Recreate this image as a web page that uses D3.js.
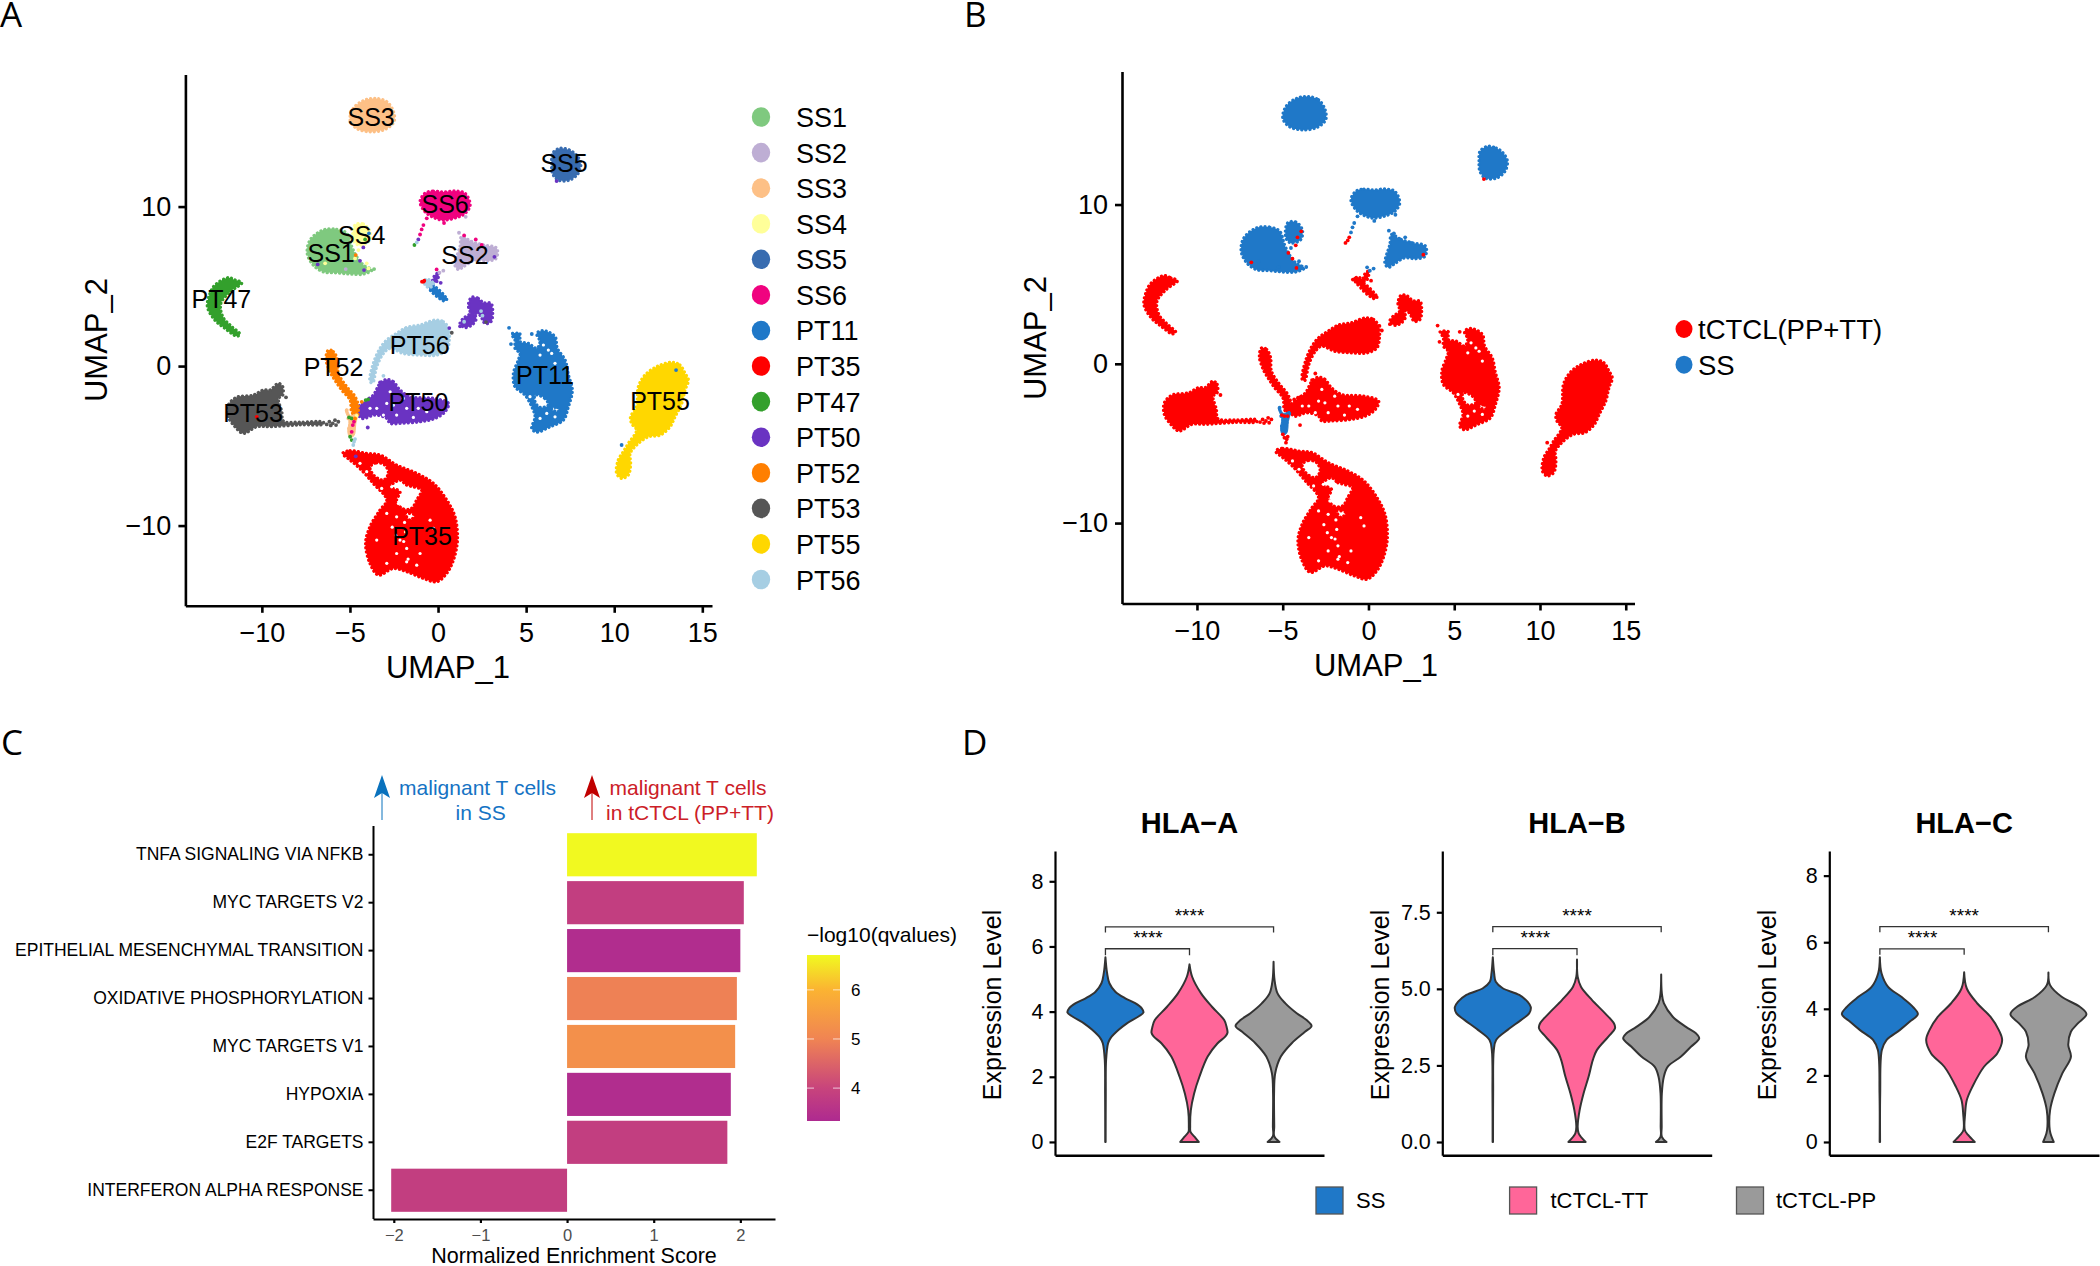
<!DOCTYPE html>
<html><head><meta charset="utf-8">
<script src="https://cdn.jsdelivr.net/npm/d3@7/dist/d3.min.js"></script>
<style>html,body{margin:0;background:#fff}svg{display:block}text{font-family:"Liberation Sans",sans-serif;fill:#000}</style>
</head><body><svg id="c" width="2100" height="1266"></svg>
<script>
// ---------- UMAP cluster outlines (UMAP_1, UMAP_2) ----------
const SS1=[[-6.51,8.53],[-5.75,8.57],[-5.18,8.32],[-4.9,7.48],[-4.62,6.85],[-4.24,6.33],[-3.76,6.02],[-4.24,5.77],[-4.99,5.77],[-5.75,5.85],[-6.51,5.91],[-7.08,6.33],[-7.42,7.06],[-7.26,7.9]];
const SS2=[[1.34,8.11],[1.91,7.8],[2.57,7.59],[3.33,7.38],[3.29,6.75],[2.76,6.6],[2.1,6.65],[1.44,6.23],[1.15,6.06],[0.96,6.33],[1.06,6.85],[1.25,7.48]];
const SS3=[[-3.58,16.78],[-2.91,16.57],[-2.53,15.95],[-2.5,15.32],[-3.01,14.84],[-3.86,14.69],[-4.62,14.9],[-4.99,15.42],[-4.81,16.15],[-4.24,16.64]];
const SS4=[[-4.71,8.84],[-4.24,8.9],[-3.86,8.42],[-3.95,7.8],[-4.52,7.59],[-4.81,7.9]];
const SS5=[[6.92,13.65],[7.45,13.54],[7.85,13.23],[8.1,12.71],[7.95,12.08],[7.45,11.66],[6.83,11.66],[6.5,12.08],[6.45,12.71],[6.5,13.33]];
const SS6=[[-0.74,10.83],[-0.26,10.97],[0.3,10.91],[0.96,10.97],[1.53,10.83],[1.82,10.09],[1.53,9.57],[1.06,9.32],[0.3,9.15],[-0.26,9.32],[-0.74,9.68],[-1.02,10.3]];
const PT11=[[4.18,2.01],[4.65,2.01],[4.65,1.53],[5.13,1.42],[5.6,1.11],[5.79,1.53],[5.6,2.05],[5.98,2.22],[6.64,1.84],[6.77,1.11],[7.21,0.38],[7.4,-0.56],[7.62,-1.5],[7.4,-2.55],[7.11,-3.39],[6.36,-3.8],[5.6,-4.14],[5.32,-3.91],[5.51,-3.18],[5.32,-2.55],[4.94,-1.82],[4.37,-1.3],[4.28,-0.46],[4.56,0.38],[4.65,0.79],[4.37,1.11],[4.37,1.63]];
const PT11hole1=[[5.51,-1.82],[6.07,-2.03],[6.26,-2.45],[5.79,-2.59],[5.51,-2.25]];
const PT11hole2=[[6.45,-2.65],[6.77,-2.59],[6.83,-2.86],[6.45,-2.72]];
const PT11stick=[[-0.36,5.08],[0.49,4.18],[0.36,4.08],[-0.49,4.87]];
const PT35=[[-5.41,-5.48],[-4.99,-5.31],[-4.05,-5.48],[-3.29,-5.58],[-2.35,-6.21],[-1.21,-6.73],[-0.26,-7.36],[0.49,-8.4],[0.96,-9.45],[1.1,-10.91],[0.87,-12.16],[0.49,-12.99],[-0.08,-13.52],[-0.83,-13.31],[-1.78,-12.89],[-2.54,-12.69],[-3.39,-13.1],[-3.86,-12.37],[-4.11,-11.12],[-3.86,-10.07],[-3.29,-9.03],[-2.91,-8.4],[-3.67,-7.36],[-4.43,-6.42],[-4.99,-5.89]];
const PT35hole1=[[-3.86,-6.31],[-3.48,-6.06],[-3.01,-6.21],[-2.82,-6.73],[-3.1,-7.15],[-3.67,-6.83]];
const PT35hole2=[[-2.16,-7.15],[-1.78,-7.46],[-1.4,-7.57],[-0.93,-7.77],[-1.21,-8.4],[-1.49,-8.92],[-2.06,-8.92],[-2.35,-8.4],[-2.16,-7.88],[-2.72,-7.57]];
const PT35hole3=[[-1.87,-9.24],[-1.31,-9.34],[-1.59,-9.66]];
const PT47=[[-11.9,5.54],[-11.52,5.39],[-11.14,5.22],[-11.8,4.66],[-12.33,3.93],[-12.22,3.09],[-11.77,2.53],[-11.24,1.99],[-11.43,1.88],[-12.09,2.36],[-12.66,2.88],[-13.09,3.72],[-12.94,4.56],[-12.66,5.08]];
const PT50=[[-2.91,-0.84],[-2.54,-0.98],[-2.16,-1.5],[-1.59,-1.92],[-0.26,-2.03],[0.59,-2.34],[0.4,-2.86],[-0.17,-3.28],[-1.02,-3.49],[-2.16,-3.59],[-2.72,-3.59],[-2.91,-3.28],[-3.58,-3.07],[-4.33,-3.28],[-4.62,-2.76],[-4.43,-2.45],[-4.05,-2.13],[-3.67,-1.82],[-3.29,-1.09]];
const PT50b=[[1.91,4.31],[2.29,4.24],[2.57,3.97],[3,3.93],[3.1,3.41],[3,2.78],[2.67,2.67],[2.38,3.2],[2.1,3.3],[2.16,2.93],[1.91,2.57],[1.53,2.42],[1.25,2.67],[1.44,2.99],[1.82,3.3],[1.72,3.82]];
const PT50c=[[-0.17,5.71],[0.02,5.81],[-0.08,5.29],[-0.32,5.18]];
const PT52=[[-6.22,1],[-5.94,0.9],[-5.71,0.38],[-5.66,-0.46],[-5.18,-1.3],[-4.71,-1.92],[-4.52,-2.55],[-4.62,-3.18],[-4.9,-2.86],[-4.99,-2.13],[-5.47,-1.5],[-5.85,-0.88],[-6.13,-0.36],[-6.36,0.48]];
const PT53=[[-9.06,-1.09],[-8.82,-1.3],[-8.82,-1.82],[-9.06,-2.03],[-8.87,-2.86],[-8.78,-3.45],[-7.83,-3.52],[-6.51,-3.52],[-6.51,-3.64],[-7.83,-3.68],[-9.53,-3.8],[-10.29,-3.8],[-11.05,-4.22],[-11.52,-3.8],[-11.9,-3.18],[-11.9,-2.45],[-11.43,-1.96],[-10.48,-1.82],[-9.91,-1.5],[-9.53,-1.5]];
const PT55=[[13.26,0.23],[13.73,0.06],[14.02,-0.46],[14.21,-0.88],[14.02,-1.5],[13.83,-2.34],[13.45,-3.18],[13.17,-3.8],[12.6,-4.33],[11.94,-4.43],[11.27,-4.95],[10.9,-5.48],[10.93,-6.1],[10.8,-6.83],[10.42,-7.04],[10.14,-6.73],[10.23,-5.89],[10.52,-5.37],[10.8,-4.85],[11.27,-4.01],[10.99,-3.6],[10.93,-3.18],[11.27,-2.55],[11.37,-1.3],[11.75,-0.56],[12.41,-0.04]];
const PT56=[[-0.17,2.88],[0.3,2.78],[0.59,2.36],[0.64,1.63],[0.49,1],[-0.08,0.69],[-1.02,0.69],[-1.97,0.79],[-2.72,1.11],[-3.1,0.79],[-3.48,-0.04],[-3.71,-1.04],[-3.86,-0.98],[-3.67,0.17],[-3.29,1.11],[-2.91,1.63],[-2.35,2.05],[-1.78,2.42],[-1.02,2.57]];
const PT56c=[[-0.68,5.45],[-0.26,5.18],[-0.45,4.93],[-0.74,5.08]];
const bridgeSS=[[-5.2,-2.69],[-4.97,-3.11],[-4.58,-3],[-4.67,-3.63],[-4.77,-4.36],[-5,-4.47],[-5.12,-4.15],[-5.06,-3.42],[-5.26,-2.8]];
// ---------- sparse spots inside the clusters, where the background shows ----------
const gaps=[[-2.25,-8.61],[-2.63,-7.57],[-3.2,-7.67],[-2.35,-9.45],[-2.91,-9.24],[-0.45,-9.66],[-0.26,-10.18],[-2.16,-10.91],[-1.78,-11.43],[-1.02,-11.75],[-2.35,-11.75],[-1.78,-12.27],[-2.91,-12.37],[-1.21,-12.48],[-3.48,-10.91],[-4.43,-6.1],[-4.05,-6.62],[-1.9,-9.8],[-1.85,-10.4],[-1.95,-11],[-2.6,-10.1],[-2.4,-10.6],[-1.7,-12.1],
 [-3.48,-2.65],[-2.54,-2.45],[-1.78,-2.65],[-3.1,-3.07],[-1.4,-3.22],[-0.64,-2.86],[-1.97,-2.03],[-2.72,-1.61],[-3.86,-2.65],[-2.91,-2.34],[-1.12,-2.65],[-2.35,-3.07],
 [5.98,1.32],[6.26,1],[6.45,0.79],[6.64,0.17],[5.79,0.69],[5.22,-1.92],[6.64,-3.18],[6.17,-2.97],[5.79,-3.28]];
// ---------- stray cells ----------
const straySS1=[[-5.24,6.08],[-3.63,6.08]];
const straySS2=[[1.19,8.36],[1.57,9.36],[0.3,5.98],[0.08,5.85],[-5.24,6.08]];
const straySS3=[[-5.18,-2.76],[-5.09,-3.28],[-5.05,-3.91],[-4.95,-4.2]];
const straySS4=[[-6.41,6.44],[-4.52,7.27],[-4.05,6.44],[-3.95,6.12],[-4.71,6.75],[-4.62,-3.13]];
const straySS6=[[-0.64,9.26],[-0.83,8.84],[-0.93,8.57],[-1.02,8.25],[0.34,8.97],[1.48,8.19],[2.14,7.94],[2.48,7.59],[-0.08,6.06],[-4.84,-3.7],[-4.77,-3.49],[-4.9,-4.12]];
const strayPT11=[[-3.92,8.32],[4.03,2.4],[5.32,2.01],[4.14,1.38],[10.42,-4.95],[13.51,-0.25]];
const strayPT35=[[-0.83,5.29],[-0.91,5.29],[-0.78,5.35],[-10.29,-3.18]];
const strayPT47=[[-4.14,7.94],[-1.34,7.59],[-5.05,-3.22],[-4.9,-3.28],[-4.99,-4.43],[-4.9,-4.64],[-4.11,-2.13],[-3.97,-2.09]];
const strayPT50=[[-6.83,6.37],[-4.43,6.6],[-4.2,6.02],[-4.24,7.44],[-1.12,7.94],[0.15,5.22],[6.73,11.6],[3.2,6.85],[1.25,2.49],[0.64,2.38],[-3.29,-1.02],[-3.99,-3.85],[-4.67,-5.66]];
const strayPT52=[[-4.67,6.96],[-4.33,-2.24],[-4.71,-3.28]];
const strayPT53=[[-8.63,-1.96],[-6.17,-3.49],[-6.09,-3.72],[-5.98,-3.59],[-5.85,-3.39],[-5.66,-3.49],[-5.79,-3.7],[-6.32,-3.66],[2.72,2.76],[0.78,2.09]];
const strayPT56=[[-1.21,7.75],[2.44,3.45],[2.52,3.16],[1.48,2.78],[-3.1,-0.61],[-1.84,2.34],[-4.71,-4.58],[-4.81,-4.95],[-4.77,-4.74]];

const clusterNames=["SS1","SS2","SS3","SS4","SS5","SS6","PT11","PT35","PT47","PT50","PT52","PT53","PT55","PT56"];
const clusterColors=["#7fc97f","#beaed4","#fdc086","#ffff99","#386cb0","#f0027f","#1f78c8","#ff0000","#33a02c","#6a33c2","#ff7f00","#565656","#ffd700","#a6cee3"];
const groupNames=["tCTCL(PP+TT)","SS"];
const groupColors=["#ff0000","#1f78c8"];
const clusterShapes={SS1:[[SS1]],SS2:[[SS2]],SS3:[[SS3]],SS4:[[SS4]],SS5:[[SS5]],SS6:[[SS6]],
 PT11:[[PT11,PT11hole1,PT11hole2],[PT11stick]],PT35:[[PT35,PT35hole1,PT35hole2,PT35hole3]],PT47:[[PT47]],
 PT50:[[PT50],[PT50b],[PT50c]],PT52:[[PT52]],PT53:[[PT53]],PT55:[[PT55]],PT56:[[PT56],[PT56c]]};
const strays={SS1:straySS1,SS2:straySS2,SS3:straySS3,SS4:straySS4,SS6:straySS6,PT11:strayPT11,PT35:strayPT35,PT47:strayPT47,PT50:strayPT50,PT52:strayPT52,PT53:strayPT53,PT56:strayPT56};
const clusterLabels=[["SS3",-3.8,15.6],["SS5",7.15,12.73],["SS6",0.4,10.13],["SS4",-4.33,8.2],["SS1",-6.07,7.08],["SS2",1.53,6.94],["PT47",-12.3,4.22],["PT56",-1.04,1.34],["PT52",-5.93,-0.03],["PT11",6.07,-0.59],["PT50",-1.11,-2.24],["PT55",12.6,-2.16],["PT53",-10.5,-2.94],["PT35",-0.91,-10.64]];

// ---------- enrichment ----------
const pathways=["TNFA SIGNALING VIA NFKB","MYC TARGETS V2","EPITHELIAL MESENCHYMAL TRANSITION","OXIDATIVE PHOSPHORYLATION","MYC TARGETS V1","HYPOXIA","E2F TARGETS","INTERFERON ALPHA RESPONSE"];
const nes=[2.19,2.04,2.0,1.96,1.94,1.89,1.85,-2.03];
const qvals=[6.7,3.85,3.4,4.95,5.25,3.4,3.85,3.85];
const colorStops=[3.33,4,5,6,6.71];
const colorRange=["#ae2a90","#c8447c","#f08453","#fbb332","#f1fa20"];

// ---------- violins: [expression, relative width] ----------
const vCats=["SS","tCTCL-TT","tCTCL-PP"];
const vColors=["#1f78c8","#ff6699","#9a9a9a"];
const A_SS=[[5.67,0],[5.18,5],[4.87,12],[4.61,30],[4.41,60],[4.26,90],[4.1,110],[3.97,115],[3.85,100],[3.64,65],[3.44,40],[3.18,15],[3.03,8],[2.52,2],[1.49,1],[0,0.6]];
const A_TT=[[5.45,0],[5.07,8],[4.56,35],[4.15,68],[3.74,105],[3.54,112],[3.35,115],[3.23,108],[3.03,85],[2.62,55],[2,30],[1.49,14],[0.98,4],[0.47,2],[0.31,3],[0.16,15],[0,28]];
const A_PP=[[5.53,0],[4.97,3],[4.56,12],[4.26,35],[3.95,70],[3.74,100],[3.56,115],[3.38,95],[3.03,55],[2.62,22],[2.11,5],[1.49,1.5],[0.47,2],[0.18,2],[0,18]];
const B_SS=[[6.03,0],[5.51,4],[5.23,9],[5.02,30],[4.8,80],[4.58,105],[4.4,115],[4.2,110],[3.98,85],[3.66,45],[3.33,10],[3,3],[1.59,1],[0,0.6]];
const B_TT=[[5.96,0],[5.4,2],[5.07,12],[4.64,45],[4.2,85],[3.87,112],[3.71,115],[3.44,95],[3,60],[2.68,48],[2.13,35],[1.59,20],[1.04,8],[0.5,2],[0.28,5],[0,26]];
const B_PP=[[5.47,0],[4.85,2],[4.53,8],[4.09,35],[3.76,75],[3.55,105],[3.38,115],[3.11,90],[2.79,60],[2.46,20],[2.13,8],[1.59,2],[0.5,1.5],[0.17,2],[0,16]];
const C_SS=[[5.55,0],[5.07,5],[4.66,25],[4.36,65],[4.06,100],[3.84,115],[3.61,90],[3.36,60],[3.06,20],[2.76,6],[1.46,1],[0,0.6]];
const C_TT=[[5.1,0],[4.61,8],[4.16,40],[3.76,80],[3.36,105],[3.06,115],[2.66,100],[2.26,60],[1.66,25],[1.26,8],[0.86,3],[0.36,2],[0.21,12],[0,32]];
const C_PP=[[5.09,0],[4.71,5],[4.36,40],[4.06,95],[3.84,115],[3.56,89],[3.31,68],[2.91,60],[2.56,68],[2.06,42],[1.46,18],[0.96,5],[0.46,3],[0.26,6],[0,16]];
const vPanels=[
 {title:"HLA\u2212A",ticks:[0,2,4,6,8],fmt:"d",dom:[-0.41,8.93],ax:1055,right:1324,vals:[A_SS,A_TT,A_PP],br:[6.6,6.43,5.93,5.73],yl:1001},
 {title:"HLA\u2212B",ticks:[0,2.5,5,7.5],fmt:".1f",dom:[-0.434,9.5],ax:1442.3,right:1711.7,vals:[B_SS,B_TT,B_PP],br:[7.03,6.85,6.31,6.1],yl:1389},
 {title:"HLA\u2212C",ticks:[0,2,4,6,8],fmt:"d",dom:[-0.4,8.74],ax:1829.3,right:2099,vals:[C_SS,C_TT,C_PP],br:[6.47,6.3,5.8,5.62],yl:1776.4}];

const svg=d3.select("#c");
function styleAxis(g,fs,sw,col){
  g.selectAll("path,line").attr("stroke","#000").attr("stroke-width",sw);
  g.selectAll("text").style("font-size",fs+"px").style("fill",col||"#000").attr("font-family","Liberation Sans");
}
const closed=d3.line().curve(d3.curveCatmullRomClosed.alpha(0.5));
function umap(xr,xd,yr,yd,colorFor,showLabels,uy,ux2,uxC,uyC2){
  const g=svg.append("g");
  const x=d3.scaleLinear().domain(xd).range(xr), y=d3.scaleLinear().domain(yd).range(yr);
  clusterNames.forEach((n,i)=>{
    clusterShapes[n].forEach(rings=>{
      const d=rings.map(r=>closed(r.map(p=>[x(p[0]),y(p[1])]))).join("");
      g.append("path").attr("d",d).attr("fill",colorFor(n,i)).attr("fill-rule","evenodd")
       .attr("stroke",colorFor(n,i)).attr("stroke-width",3.4).attr("stroke-linecap","round").attr("stroke-dasharray","0.01 4.1");
    });
  });
  gaps.forEach(p=>g.append("circle").attr("cx",x(p[0])).attr("cy",y(p[1])).attr("r",1.6).attr("fill","#fff"));
  g.append("path").attr("d",closed(bridgeSS.map(p=>[x(p[0]),y(p[1])]))).attr("fill",colorFor("SS3",2)).attr("stroke",colorFor("SS3",2)).attr("stroke-width",1);
  clusterNames.forEach((n,i)=>{
    (strays[n]||[]).forEach(p=>g.append("circle").attr("cx",x(p[0])).attr("cy",y(p[1])).attr("r",1.9).attr("fill",colorFor(n,i)));
  });
  const ax=g.append("g").attr("transform",`translate(0,${yr[0]})`).call(d3.axisBottom(x).tickValues([-10,-5,0,5,10,15]).tickSize(7).tickSizeOuter(0).tickPadding(10));
  styleAxis(ax,27,2.6);
  const ay=g.append("g").attr("transform",`translate(${xr[0]},0)`).call(d3.axisLeft(y).tickValues([-10,0,10]).tickSize(7).tickSizeOuter(0).tickPadding(7));
  styleAxis(ay,27,2.6);
  g.append("text").attr("x",uxC).attr("y",uy).attr("text-anchor","middle").style("font-size","31px").text("UMAP_1");
  g.append("text").attr("transform",`translate(${ux2},${uyC2}) rotate(-90)`).attr("text-anchor","middle").style("font-size","31px").text("UMAP_2");
  if(showLabels) clusterLabels.forEach(l=>g.append("text").attr("x",x(l[1])).attr("y",y(l[2])+9).attr("text-anchor","middle").style("font-size","25px").text(l[0]));
}
umap([185.4,712],[-14.34,15.55],[605.8,74.5],[-15.03,18.28],(n,i)=>clusterColors[i],true,678,107,448,340);
umap([1122,1634.5],[-14.37,15.51],[603.5,71.4],[-15.05,18.36],(n)=>n.startsWith("SS")?groupColors[1]:groupColors[0],false,676,1046,1376,338);

// legends A / B
clusterNames.forEach((n,i)=>{
  const yy=d3.scaleLinear().domain([0,13]).range([117,579.5])(i);
  svg.append("ellipse").attr("cx",761).attr("cy",yy).attr("rx",9.2).attr("ry",9.8).attr("fill",clusterColors[i]);
  svg.append("text").attr("x",796).attr("y",yy+10).style("font-size","27px").text(n);
});
groupNames.forEach((n,i)=>{
  const yy=[329,364.7][i];
  svg.append("ellipse").attr("cx",1684).attr("cy",yy).attr("rx",8.5).attr("ry",9).attr("fill",groupColors[i]);
  svg.append("text").attr("x",1698).attr("y",yy+10).style("font-size","27.5px").text(n);
});
// panel letters
[["A",0,27],["B",964,27],["C",1,755],["D",962,755]].forEach(l=>svg.append("text").attr("x",l[1]).attr("y",l[2]).style("font-family","Open Sans").style("font-size","35px").style("font-weight","400").text(l[0]));

// ---------- panel C ----------
(function(){
  const x=d3.scaleLinear().domain([-2.24,2.40]).range([373,775]);
  const y=d3.scaleBand().domain(pathways).range([826,1219]).paddingInner(0.1).paddingOuter(0.15);
  const col=d3.scaleLinear().domain(colorStops).range(colorRange);
  const g=svg.append("g");
  pathways.forEach((p,i)=>{
    g.append("rect").attr("x",x(Math.min(0,nes[i]))).attr("width",Math.abs(x(nes[i])-x(0))).attr("y",y(p)).attr("height",y.bandwidth())
      .attr("fill",col(qvals[i]));
  });
  const ax=g.append("g").attr("transform","translate(0,1219)").call(d3.axisBottom(x).tickValues([-2,-1,0,1,2]).tickFormat(d3.format("d")).tickSize(4).tickSizeOuter(0).tickPadding(6));
  styleAxis(ax,16.5,2.2,"#4d4d4d");
  const ay=g.append("g").attr("transform","translate(373,0)").call(d3.axisLeft(y).tickSize(4.5).tickSizeOuter(0).tickPadding(5));
  styleAxis(ay,17.5,2);
  ay.selectAll(".domain").attr("d","M0.5,826V1219");
  g.append("text").attr("x",574).attr("y",1263).attr("text-anchor","middle").style("font-size","21.5px").text("Normalized Enrichment Score");
  const anno=[["malignant T cells",477.5,795,"#1573c4"],["in SS",480.6,820,"#1573c4"],["malignant T cells",688,795,"#cc2027"],["in tCTCL (PP+TT)",690,820,"#cc2027"]];
  anno.forEach(a=>g.append("text").attr("x",a[1]).attr("y",a[2]).attr("text-anchor","middle").style("font-size","21px").style("fill",a[3]).text(a[0]));
  [[382,"#0a72bd"],[592,"#c00000"]].forEach(a=>{
    g.append("line").attr("x1",a[0]).attr("x2",a[0]).attr("y1",820).attr("y2",790).attr("stroke",a[1]).attr("stroke-width",1);
    g.append("path").attr("d",`M${a[0]},775L${a[0]+8},798L${a[0]},793L${a[0]-8},798Z`).attr("fill",a[1]);
  });
  // colour bar
  const barScale=d3.scaleLinear().domain([colorStops[0],colorStops[4]]).range([1121,955]);
  const grad=svg.append("defs").append("linearGradient").attr("id","qg").attr("x1",0).attr("x2",0).attr("y1",1).attr("y2",0);
  colorStops.forEach((s,i)=>grad.append("stop").attr("offset",(s-colorStops[0])/(colorStops[4]-colorStops[0])).attr("stop-color",colorRange[i]));
  g.append("rect").attr("x",807).attr("y",955).attr("width",33).attr("height",166).attr("fill","url(#qg)");
  [4,5,6].forEach(t=>{
    g.append("line").attr("x1",807).attr("x2",814).attr("y1",barScale(t)).attr("y2",barScale(t)).attr("stroke","#fff").attr("stroke-opacity",.7);
    g.append("line").attr("x1",833).attr("x2",840).attr("y1",barScale(t)).attr("y2",barScale(t)).attr("stroke","#fff").attr("stroke-opacity",.7);
    g.append("text").attr("x",851).attr("y",barScale(t)+6).style("font-size","17px").text(t);
  });
  g.append("text").attr("x",807).attr("y",942).style("font-size","21px").text("\u2212log10(qvalues)");
})();

// ---------- panel D ----------
vPanels.forEach(p=>{
  const g=svg.append("g");
  const y=d3.scaleLinear().domain(p.dom).range([1155.3,851]);
  const x=d3.scalePoint().domain(vCats).range([p.ax,p.right]).padding(0.6);
  const w=d3.scaleLinear().domain([0,115]).range([0,38]);
  vCats.forEach((c,i)=>{
    const area=d3.area().curve(d3.curveCatmullRom.alpha(0.5)).y(d=>y(d[0])).x0(d=>x(c)-w(d[1])).x1(d=>x(c)+w(d[1]));
    g.append("path").attr("d",area(p.vals[i])+"Z").attr("fill",vColors[i]).attr("stroke","#333").attr("stroke-width",2).attr("stroke-linejoin","round");
  });
  const [c0,c1,c2]=vCats.map(c=>x(c));
  g.append("path").attr("d",`M${c0},${y(p.br[1])}V${y(p.br[0])}H${c2}V${y(p.br[1])}`).attr("fill","none").attr("stroke","#333").attr("stroke-width",1.3);
  g.append("path").attr("d",`M${c0},${y(p.br[3])}V${y(p.br[2])}H${c1}V${y(p.br[3])}`).attr("fill","none").attr("stroke","#333").attr("stroke-width",1.3);
  g.append("text").attr("x",c1).attr("y",922).attr("text-anchor","middle").style("font-size","19px").text("****");
  g.append("text").attr("x",(c0+c1)/2+0.5).attr("y",944).attr("text-anchor","middle").style("font-size","19px").text("****");
  const ay=g.append("g").attr("transform",`translate(${p.ax},0)`).call(d3.axisLeft(y).tickValues(p.ticks).tickFormat(d3.format(p.fmt)).tickSize(5.5).tickSizeOuter(0).tickPadding(6));
  styleAxis(ay,21.5,2.2);
  const ax=g.append("g").attr("transform","translate(0,1155.3)").call(d3.axisBottom(x).tickValues([]).tickSizeOuter(0));
  styleAxis(ax,10,2.4);
  g.append("text").attr("x",c1).attr("y",833).attr("text-anchor","middle").style("font-size","29px").style("font-weight","700").text(p.title);
  g.append("text").attr("transform",`translate(${p.yl},1005) rotate(-90)`).attr("text-anchor","middle").style("font-size","25px").text("Expression Level");
});
// legend D
[[1316,1356],[1509.6,1550.5],[1736.5,1776]].forEach((l,i)=>{
  svg.append("rect").attr("x",l[0]).attr("y",1187).attr("width",27).attr("height",27).attr("fill",vColors[i]).attr("stroke","#555").attr("stroke-width",1.3);
  svg.append("text").attr("x",l[1]).attr("y",1208).style("font-size","22px").text(vCats[i]);
});
</script></body></html>
